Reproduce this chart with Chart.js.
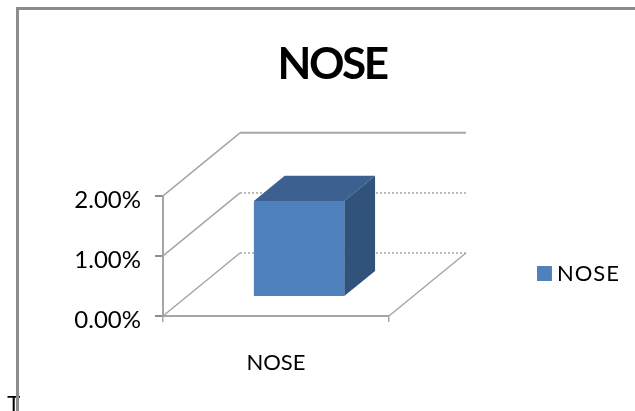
<!DOCTYPE html>
<html>
<head>
<meta charset="utf-8">
<style>
  html, body { margin: 0; padding: 0; background: #fff; }
  #wrap { width: 635px; height: 411px; }
</style>
<script src="https://cdn.jsdelivr.net/npm/chart.js@4"></script>
</head>
<body>
<div id="wrap"><canvas id="chart"></canvas></div>
<script>
// ============================
// DATA
// ============================
const categories = ["NOSE"];
const seriesName = "NOSE";
const seriesValues = [1.6];
const yTickValues = [0, 1, 2];
const titleText = "NOSE";
const cornerText = "T";

// ============================
// 3D LOOK
// ============================
const DEPTH_X = 77;
const DEPTH_Y = -63;
const BAR_NEAR = 0.3;
const BAR_FAR = 0.7;
const GRID_COLOR = "#a6a6a6";
const BAR_COLOR = "#4f81bd";

function line(ctx, x1, y1, x2, y2, dash) {
  ctx.setLineDash(dash || []);
  ctx.beginPath();
  ctx.moveTo(x1, y1);
  ctx.lineTo(x2, y2);
  ctx.stroke();
}

function quad(ctx, pts, color) {
  ctx.fillStyle = color;
  ctx.beginPath();
  pts.forEach((p, i) => i ? ctx.lineTo(p[0], p[1]) : ctx.moveTo(p[0], p[1]));
  ctx.closePath();
  ctx.fill();
}

// draws a layout box with its text spaced out or pulled together
function withSpacing(box, spacing) {
  const draw = box.draw;
  box.draw = function (area) {
    const ctx = this.ctx;
    ctx.save();
    ctx.letterSpacing = spacing;
    draw.call(this, area);
    ctx.restore();
  };
}

// page frame and the stray letter at the bottom left
const framePlugin = {
  id: "frame",
  beforeDraw(chart) {
    const ctx = chart.ctx;
    ctx.save();
    ctx.fillStyle = "#000";
    ctx.font = "22px 'Liberation Sans'";
    ctx.textBaseline = "alphabetic";
    ctx.textAlign = "left";
    ctx.fillText(cornerText, 7, 411);
    ctx.fillStyle = "#8c8c8c";
    ctx.fillRect(16, 7, 619, 3);
    ctx.fillRect(16, 7, 3, 404);
    ctx.restore();
  }
};

// walls go behind the bar, then the bar is pushed back into the floor
const depthPlugin = {
  id: "depth",
  afterInit(chart) {
    withSpacing(chart.titleBlock, "-2.5px");
    withSpacing(chart.legend, "1px");
  },
  afterLayout(chart) {
    const legend = chart.legend;
    legend.top += 68;
    legend.bottom += 68;
    legend.left += 148;
    legend.right += 148;
    chart.titleBlock.left += 78;
    chart.titleBlock.right += 78;
  },
  beforeDatasetsDraw(chart) {
    const ctx = chart.ctx;
    const { y } = chart.scales;
    const left = chart.chartArea.left;
    const right = chart.chartArea.right;

    ctx.save();
    ctx.strokeStyle = GRID_COLOR;
    ctx.lineWidth = 1.5;
    yTickValues.forEach((v, i) => {
      const py = y.getPixelForValue(v);
      line(ctx, left, py, left + DEPTH_X, py + DEPTH_Y);
      const top = i === yTickValues.length - 1;
      ctx.lineWidth = top ? 2 : 1.5;
      line(ctx, left + DEPTH_X, py + DEPTH_Y, right + DEPTH_X, py + DEPTH_Y, top ? [] : [2, 2]);
      ctx.lineWidth = 1.5;
    });
    const base = y.getPixelForValue(0);
    line(ctx, right, base, right + DEPTH_X, base + DEPTH_Y);
    ctx.setLineDash([]);

    chart.getDatasetMeta(0).data.forEach(bar => {
      const p = bar.getProps(["x", "y", "base", "width"], true);
      const nx = DEPTH_X * BAR_NEAR, ny = DEPTH_Y * BAR_NEAR;
      const fx = DEPTH_X * BAR_FAR, fy = DEPTH_Y * BAR_FAR;
      const l = p.x - p.width / 2, r = p.x + p.width / 2;
      quad(ctx, [[l + nx, p.y + ny], [r + nx, p.y + ny], [r + fx, p.y + fy], [l + fx, p.y + fy]], "#3c6190");
      quad(ctx, [[r + nx, p.y + ny], [r + fx, p.y + fy], [r + fx, p.base + fy], [r + nx, p.base + ny]], "#31527b");
    });

    ctx.translate(DEPTH_X * BAR_NEAR, DEPTH_Y * BAR_NEAR);
  },
  afterDatasetsDraw(chart) {
    chart.ctx.restore();
  }
};

// ============================
// CHART
// ============================
new Chart(document.getElementById("chart"), {
  type: "bar",
  data: {
    labels: categories,
    datasets: [{
      label: seriesName,
      data: seriesValues,
      backgroundColor: BAR_COLOR,
      borderWidth: 0,
      barPercentage: 0.4,
      categoryPercentage: 1
    }]
  },
  options: {
    responsive: true,
    maintainAspectRatio: false,
    animation: false,
    layout: { padding: { left: 30, right: 157, top: 0, bottom: 0 } },
    plugins: {
      tooltip: { enabled: false },
      title: {
        display: true,
        text: titleText,
        color: "#000",
        font: { family: "Lato", size: 44, weight: "bold" },
        padding: { top: 38, bottom: 105 }
      },
      legend: {
        position: "right",
        labels: {
          // thick stroke round a small box keeps the swatch close to its text
          boxWidth: 5,
          boxHeight: 3,
          color: "#000",
          padding: 4,
          font: { family: "Lato", size: 22 },
          generateLabels: () => [{
            text: seriesName,
            fillStyle: BAR_COLOR,
            strokeStyle: BAR_COLOR,
            lineWidth: 12,
            datasetIndex: 0
          }]
        }
      }
    },
    scales: {
      x: {
        afterFit(s) { s.height = 95; },
        grid: { display: true, drawOnChartArea: false, color: GRID_COLOR, tickLength: 6, lineWidth: 1.5 },
        border: { color: GRID_COLOR, width: 2 },
        ticks: { color: "#000", padding: 28, font: { family: "Lato", size: 22 } }
      },
      y: {
        min: 0,
        max: 2,
        afterFit(s) { s.width = 133; },
        afterBuildTicks(s) { s.ticks = yTickValues.map(value => ({ value })); },
        grid: { display: true, drawOnChartArea: false, color: "#8c8c8c", tickLength: 8, lineWidth: 2 },
        border: { color: GRID_COLOR, width: 2 },
        ticks: {
          color: "#000",
          padding: 14,
          labelOffset: 4,
          font: { family: "Lato", size: 24 },
          callback: v => v.toFixed(2) + "%"
        }
      }
    }
  },
  plugins: [framePlugin, depthPlugin]
});
</script>
</body>
</html>
